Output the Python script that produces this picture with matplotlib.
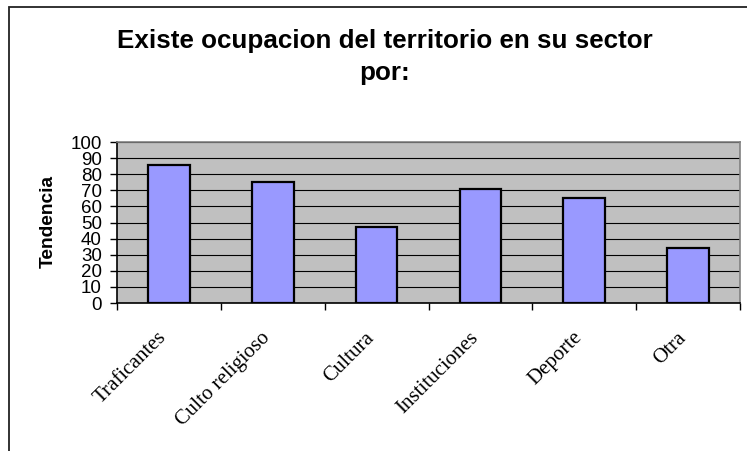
import matplotlib
matplotlib.use('Agg')
import matplotlib.pyplot as plt
import matplotlib.transforms as mtransforms
from matplotlib.patches import Rectangle

# Дані
categorias = ['Traficantes', 'Culto religioso', 'Cultura', 'Instituciones', 'Deporte', 'Otra']
tendencia = [86, 75, 47, 71, 65, 34]
y_ticks = list(range(0, 101, 10))

W, H = 747, 451
fig = plt.figure(figsize=(W / 100, H / 100), dpi=100)
fig.patch.set_facecolor('white')

# рамка діаграми (права і нижня сторони за межами картинки)
fig.patches.append(Rectangle((8.5 / W, -0.1), 1.2, 1 - 7.5 / H + 0.1, transform=fig.transFigure,
                             fill=False, edgecolor='#222222', linewidth=1.3))

ax = fig.add_axes([117 / W, 1 - 303 / H, 623 / W, 161 / H])
ax.set_facecolor('#C0C0C0')

pos = [i + 0.5 for i in range(len(categorias))]
ax.bar(pos, tendencia, width=0.4, color='#9999FF', edgecolor='black', linewidth=1.6, zorder=3)

ax.set_xlim(0, len(categorias))
ax.set_ylim(0, 100)
ax.set_yticks(y_ticks)
ax.set_yticklabels([str(v) for v in y_ticks], fontsize=13.5, family='Liberation Sans')
ax.yaxis.grid(True, color='black', linewidth=0.8, zorder=1)
ax.set_axisbelow(True)

# поділки на межах категорій, підписи по центру
ax.set_xticks(range(len(categorias) + 1))
ax.set_xticklabels([])
ax.set_xticks(pos, minor=True)
ax.set_xticklabels(categorias, minor=True, rotation=45, ha='right', va='center',
                   rotation_mode='anchor', fontsize=15, family='Liberation Serif')
ax.tick_params(axis='x', which='major', direction='out', length=5, width=1, color='black')
ax.tick_params(axis='x', which='minor', length=0, pad=23)
ax.tick_params(axis='y', direction='out', length=5, width=1, pad=6)
off = mtransforms.ScaledTranslation(-5 / 100, 0, fig.dpi_scale_trans)
for lab in ax.get_xticklabels(minor=True):
    lab.set_transform(lab.get_transform() + off)

for s in ['top', 'right']:
    ax.spines[s].set_color('#808080')
    ax.spines[s].set_linewidth(1.2)
for s in ['left', 'bottom']:
    ax.spines[s].set_color('black')
    ax.spines[s].set_linewidth(1.2)

fig.text(384.5 / W, 1 - 48 / H, 'Existe ocupacion del territorio en su sector', ha='center',
         va='baseline', fontsize=18.7, fontweight='bold', family='Liberation Sans')
fig.text(384.5 / W, 1 - 80 / H, 'por:', ha='center', va='baseline', fontsize=18.7,
         fontweight='bold', family='Liberation Sans')
fig.text(48 / W, 1 - 222 / H, 'Tendencia', rotation=90, ha='center', va='center',
         fontsize=13.8, fontweight='bold', family='Liberation Sans')

fig.savefig('out.png', dpi=100)
